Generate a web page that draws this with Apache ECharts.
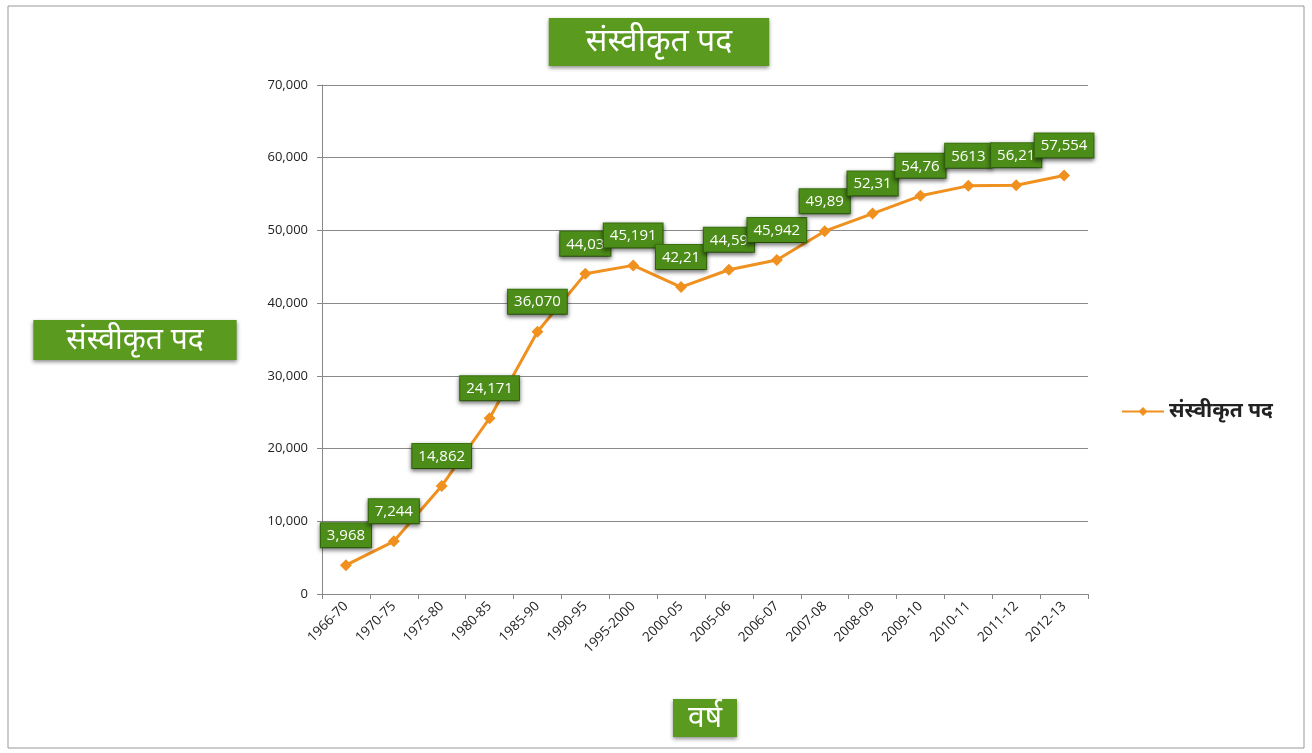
<!DOCTYPE html>
<html><head><meta charset="utf-8">
<script src="https://cdn.jsdelivr.net/npm/echarts@6/dist/echarts.min.js"></script>
<style>html,body{margin:0;padding:0;background:#fff}#c{width:1312px;height:753px}</style>
</head><body><div id="c"></div>
<script>
const categories = ['1966-70','1970-75','1975-80','1980-85','1985-90','1990-95','1995-2000','2000-05','2005-06','2006-07','2007-08','2008-09','2009-10','2010-11','2011-12','2012-13'];
const values = [3968, 7244, 14862, 24171, 36070, 44030, 45191, 42210, 44590, 45942, 49898, 52313, 54760, 56130, 56210, 57554];
const labelTexts = ['3,968','7,244','14,862','24,171','36,070','44,03','45,191','42,21','44,59','45,942','49,89','52,31','54,76','5613','56,21','57,554'];
const seriesName = 'संस्वीकृत पद';
const chartTitle = 'संस्वीकृत पद';
const yAxisTitle = 'संस्वीकृत पद';
const xAxisTitle = 'वर्ष';

const FONT = "'Noto Sans', 'Noto Sans Devanagari', 'Lohit Devanagari', sans-serif";
const BOX = {fill:'#fff', align:'center', verticalAlign:'middle', backgroundColor:'#5a9a1e',
  shadowBlur:4, shadowColor:'rgba(0,0,0,0.45)', shadowOffsetY:2};
const chart = echarts.init(document.getElementById('c'));
chart.setOption({
  animation:false,
  backgroundColor:'#fff',
  graphic:[
    {type:'rect', shape:{x:8,y:6,width:1296,height:742}, style:{fill:'none', stroke:'#999', lineWidth:1}, silent:true},
    {type:'text', x:659, y:42, style:Object.assign({text:chartTitle, font:'32px '+FONT, padding:[8,37,8,37]}, BOX)},
    {type:'text', x:135, y:340, style:Object.assign({text:yAxisTitle, font:'30px '+FONT, padding:[5,33,5,33]}, BOX)},
    {type:'text', x:705, y:718, style:Object.assign({text:xAxisTitle, font:'30px '+FONT, padding:[4,15,4,15]}, BOX)}
  ],
  legend:{
    data:[seriesName], orient:'vertical', left:1116, top:396, itemWidth:42, itemHeight:11, itemGap:10,
    textStyle:{fontFamily:FONT, fontSize:21, fontWeight:'bold', color:'#222'}
  },
  grid:{left:322, right:224, top:85, bottom:159, containLabel:false},
  xAxis:{
    type:'category', data:categories, boundaryGap:true,
    axisLine:{lineStyle:{color:'#888', width:1}},
    axisTick:{show:true, length:5, lineStyle:{color:'#888'}},
    axisLabel:{rotate:45, interval:0, color:'#222', fontSize:13.5, fontFamily:"'Open Sans', sans-serif", margin:10}
  },
  yAxis:{
    type:'value', min:0, max:70000, interval:10000,
    axisLine:{show:true, lineStyle:{color:'#888'}},
    axisTick:{show:true, length:5, lineStyle:{color:'#888'}},
    splitLine:{lineStyle:{color:'#8a8a8a', width:1}},
    axisLabel:{color:'#222', fontSize:13, fontFamily:"'Open Sans', sans-serif", margin:14,
      formatter:v=>v.toLocaleString('en-US')}
  },
  series:[{
    name:seriesName, type:'line', data:values,
    symbol:'diamond', symbolSize:12,
    lineStyle:{color:'#f0901e', width:3},
    itemStyle:{color:'#f0901e'},
    label:{
      show:true, position:'top', distance:12,
      formatter:p=>labelTexts[p.dataIndex],
      color:'#fff', fontSize:15, fontFamily:"'Open Sans', sans-serif",
      backgroundColor:'#4c8c18', borderColor:'#3d7a10', borderWidth:1,
      padding:[5,6,4,6],
      shadowBlur:4, shadowColor:'rgba(0,0,0,0.5)', shadowOffsetY:2
    }
  }]
});
</script></body></html>
